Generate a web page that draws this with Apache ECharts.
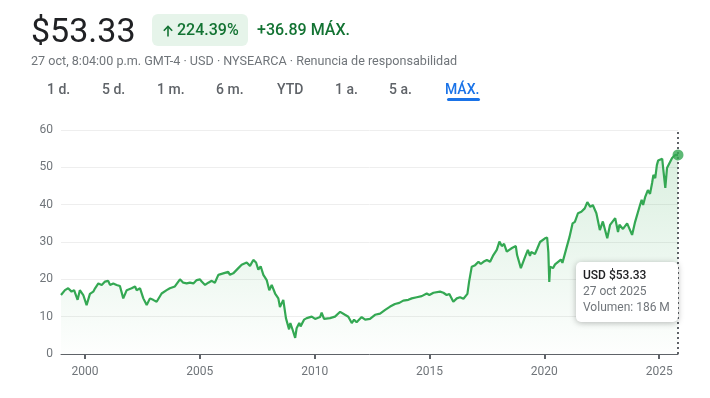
<!DOCTYPE html>
<html>
<head>
<meta charset="utf-8">
<script src="https://cdn.jsdelivr.net/npm/echarts@6/dist/echarts.min.js"></script>
<style>
  html, body { margin: 0; padding: 0; background: #fff; }
  #chart { width: 710px; height: 398px; }
</style>
</head>
<body>
<div id="chart"></div>
<script>
// precio de cierre (lectura aproximada del gráfico)
var fechas = [
  '1998-12-16','1999-02-17','1999-04-09','1999-06-02','1999-07-12','1999-09-06','1999-10-12','1999-12-05',
  '2000-01-27','2000-03-20','2000-05-12','2000-06-10','2000-08-01','2000-09-24','2000-11-15',
  '2001-01-05','2001-02-02','2001-03-26','2001-05-18','2001-07-10','2001-09-01','2001-10-26',
  '2002-01-12','2002-03-08','2002-04-01','2002-05-26','2002-07-17','2002-09-09','2002-10-31','2002-12-20',
  '2003-02-14','2003-05-04','2003-07-23','2003-09-12','2003-12-01',
  '2004-02-20','2004-04-12','2004-06-06','2004-07-01','2004-07-28','2004-09-20','2004-11-12',
  '2005-01-04','2005-01-30','2005-03-25','2005-05-16','2005-07-09','2005-08-28','2005-10-22',
  '2006-01-08','2006-03-28','2006-04-25','2006-06-16','2006-09-05','2006-10-28',
  '2007-01-16','2007-03-10','2007-05-01','2007-06-14','2007-07-20','2007-08-26','2007-10-08','2007-11-30',
  '2008-01-10','2008-02-18','2008-04-12','2008-06-02','2008-06-28','2008-08-20','2008-10-01','2008-11-20','2008-12-10',
  '2009-01-15','2009-02-25','2009-03-20','2009-05-01','2009-05-22','2009-07-16','2009-08-28','2009-11-15',
  '2010-01-08','2010-03-28','2010-04-22','2010-05-30','2010-09-02','2010-11-20',
  '2011-02-10','2011-04-28','2011-06-20','2011-08-14','2011-09-20','2011-10-30',
  '2012-01-18','2012-03-14','2012-05-30','2012-08-18','2012-11-06',
  '2013-01-26','2013-04-15','2013-07-01','2013-09-08','2013-11-10',
  '2014-01-30','2014-03-25','2014-06-12','2014-08-31','2014-11-18','2014-12-30',
  '2015-03-05','2015-06-18','2015-08-10','2015-10-01','2015-11-13',
  '2016-01-15','2016-03-10','2016-05-01','2016-06-24','2016-08-26','2016-09-22','2016-11-03','2016-12-27',
  '2017-02-18','2017-03-26','2017-05-08','2017-07-01','2017-08-22','2017-10-13','2017-12-06',
  '2018-01-17','2018-02-24','2018-04-01','2018-05-14','2018-06-23','2018-08-05','2018-10-05','2018-10-25','2018-12-24',
  '2019-03-01','2019-04-15','2019-05-18','2019-06-06','2019-08-05','2019-09-10','2019-10-25',
  '2020-01-12','2020-02-15','2020-03-05','2020-03-20','2020-04-02','2020-05-18','2020-06-20','2020-08-08','2020-09-20','2020-10-15','2020-12-23',
  '2021-02-04','2021-03-26','2021-05-01','2021-06-19','2021-08-12','2021-10-05','2021-11-15',
  '2022-01-01','2022-02-10','2022-04-08','2022-06-02','2022-07-20','2022-09-28','2022-11-12',
  '2023-02-01','2023-03-18','2023-04-10','2023-06-05','2023-08-10','2023-10-28','2023-12-15',
  '2024-03-02','2024-03-28','2024-04-20','2024-05-22','2024-07-05','2024-08-08','2024-09-10','2024-10-01','2024-10-30','2024-11-25','2024-12-15',
  '2025-02-18','2025-03-05','2025-04-08','2025-05-05','2025-07-25','2025-09-12','2025-10-27'
];
var precios = [
  15.8,17.1,17.6,16.7,17.1,14.5,17.1,15.8,
  13.1,16.1,16.7,17.6,18.9,18.5,19.4,
  19.6,18.5,18.9,18.5,18.2,14.9,17.1,
  17.6,18.1,17.1,17.6,14.9,13.1,14.9,14.5,
  14.0,16.2,17.1,17.6,18.1,
  20.0,19.1,18.9,18.5,19.1,18.9,19.8,
  20.0,19.4,18.5,19.1,19.6,19.1,21.2,
  21.6,22.0,21.2,21.6,23.0,23.9,
  24.5,23.6,25.2,24.5,22.6,23.5,21.2,19.8,
  17.1,18.5,16.2,14.9,12.6,14.5,9.6,6.6,8.3,
  6.5,4.3,6.9,8.3,7.4,9.2,9.6,10.0,
  9.4,9.9,11.1,9.4,9.6,10.0,
  11.3,10.5,10.0,8.3,9.2,8.5,
  9.9,9.2,9.4,10.5,10.8,
  11.8,12.7,13.4,13.7,14.3,
  14.5,14.9,15.2,15.5,16.2,15.8,
  16.4,16.7,16.4,15.8,16.1,
  14.0,14.9,15.2,14.8,16.1,19.4,23.4,23.8,
  24.7,24.1,24.7,25.2,24.7,26.5,27.9,
  30.1,28.9,29.5,27.4,27.9,28.4,28.9,26.5,23.0,
  26.0,27.9,26.3,27.3,26.8,28.2,30.0,
  31.0,31.2,27.3,19.3,23.4,23.0,24.0,24.7,25.3,24.4,28.7,
  31.3,35.0,35.4,37.7,38.1,39.0,40.7,
  39.4,39.9,37.7,33.2,35.5,31.0,34.6,
  36.4,32.7,34.6,33.5,35.0,31.9,35.4,
  39.9,41.3,39.9,42.0,43.9,42.9,45.8,48.0,47.1,50.6,51.8,
  52.3,49.8,44.5,49.8,52.5,53.3,53.33
];
var anios = [2000, 2005, 2010, 2015, 2020, 2025];
var pestanas = ['1 d.', '5 d.', '1 m.', '6 m.', 'YTD', '1 a.', '5 a.', 'MÁX.'];
var pestanasX = [47, 102, 157, 216, 277, 335, 389, 445];
var volumen = '186 M';

function aTiempo(s) {
  var p = s.split('-');
  return new Date(+p[0], +p[1] - 1, +p[2]).getTime();
}
var serie = [];
for (var i = 0; i < fechas.length; i++) {
  serie.push([aTiempo(fechas[i]), precios[i]]);
}
var ultimo = serie[serie.length - 1];
var ticksAnio = anios.map(function (a) { return new Date(a, 0, 1).getTime(); });

var verde = '#34a853';
var verdeTexto = '#137333';
var gris = '#70757a';

var graficos = [
  { type: 'text', x: 31, y: 33, style: { text: '$53.33', font: '34px Roboto', fill: '#202124', verticalAlign: 'middle' } },
  { type: 'rect', shape: { x: 152, y: 14, width: 96, height: 32, r: 6 }, style: { fill: '#e6f4ea' } },
  { type: 'polyline', shape: { points: [[168, 36.5], [168, 26.5]] }, style: { stroke: verdeTexto, lineWidth: 1.6 } },
  { type: 'polyline', shape: { points: [[163.8, 30.8], [168, 26.5], [172.2, 30.8]] }, style: { stroke: verdeTexto, lineWidth: 1.6, fill: null } },
  { type: 'text', x: 177, y: 31, style: { text: '224.39%', font: '500 16px Roboto', fill: verdeTexto, verticalAlign: 'middle' } },
  { type: 'text', x: 257, y: 31, style: { text: '+36.89 MÁX.', font: '500 16px Roboto', fill: verdeTexto, verticalAlign: 'middle' } },
  { type: 'text', x: 31, y: 61.5, style: { text: '27 oct, 8:04:00 p.m. GMT-4 · USD · NYSEARCA · Renuncia de responsabilidad', font: '12.6px Roboto', fill: gris, verticalAlign: 'middle' } },
  { type: 'rect', shape: { x: 447, y: 98, width: 33, height: 3, r: 1.5 }, style: { fill: '#1a73e8' } },
  // recuadro de información
  { type: 'rect', shape: { x: 576, y: 262, width: 102, height: 60, r: 5 },
    style: { fill: '#fff', shadowBlur: 6, shadowColor: 'rgba(0,0,0,0.28)', shadowOffsetY: 1 }, z: 100 },
  { type: 'text', x: 583, y: 276, z: 101, style: { text: 'USD $' + ultimo[1].toFixed(2), font: '500 12px Roboto', fill: '#202124', verticalAlign: 'middle' } },
  { type: 'text', x: 583, y: 292, z: 101, style: { text: '27 oct 2025', font: '12px Roboto', fill: gris, verticalAlign: 'middle' } },
  { type: 'text', x: 583, y: 308, z: 101, style: { text: 'Volumen: ' + volumen, font: '12px Roboto', fill: gris, verticalAlign: 'middle' } }
];
for (var j = 0; j < pestanas.length; j++) {
  graficos.push({
    type: 'text', x: pestanasX[j], y: 90.5,
    style: { text: pestanas[j], font: '500 14px Roboto', fill: j === pestanas.length - 1 ? '#1a73e8' : '#5f6368', verticalAlign: 'middle' }
  });
}

var myChart = echarts.init(document.getElementById('chart'));
var option = {
  backgroundColor: '#fff',
  animation: false,
  textStyle: { fontFamily: 'Roboto' },
  grid: { left: 61, right: 32, top: 130, bottom: 44 },
  graphic: graficos,
  xAxis: {
    type: 'value',
    min: serie[0][0],
    max: ultimo[0],
    axisLine: { lineStyle: { color: '#5f6368', width: 1 } },
    axisTick: { show: true, length: 5, lineStyle: { color: '#5f6368', width: 2 }, customValues: ticksAnio },
    axisLabel: {
      color: gris, fontSize: 12, margin: 12,
      customValues: ticksAnio,
      formatter: function (v) { return String(new Date(v).getFullYear()); }
    },
    splitLine: { show: false }
  },
  yAxis: {
    type: 'value',
    min: 0, max: 60, interval: 10,
    axisLine: { show: false },
    axisTick: { show: false },
    axisLabel: { color: gris, fontSize: 12, margin: 8 },
    splitLine: { lineStyle: { color: '#eeeeee', width: 1 } }
  },
  series: [
    {
      type: 'line',
      data: serie,
      showSymbol: false,
      lineStyle: { color: verde, width: 2.2 },
      itemStyle: { color: verde },
      areaStyle: {
        color: new echarts.graphic.LinearGradient(0, 0, 0, 1, [
          { offset: 0, color: 'rgba(52,168,83,0.26)' },
          { offset: 1, color: 'rgba(52,168,83,0.01)' }
        ])
      },
      markLine: {
        silent: true,
        symbol: 'none',
        label: { show: false },
        lineStyle: { color: '#5f6368', width: 2, type: [2, 3] },
        data: [{ xAxis: ultimo[0] }]
      }
    },
    {
      type: 'scatter',
      data: [ultimo],
      symbolSize: 11,
      itemStyle: { color: verde },
      z: 5
    }
  ]
};
myChart.setOption(option);
</script>
</body>
</html>
